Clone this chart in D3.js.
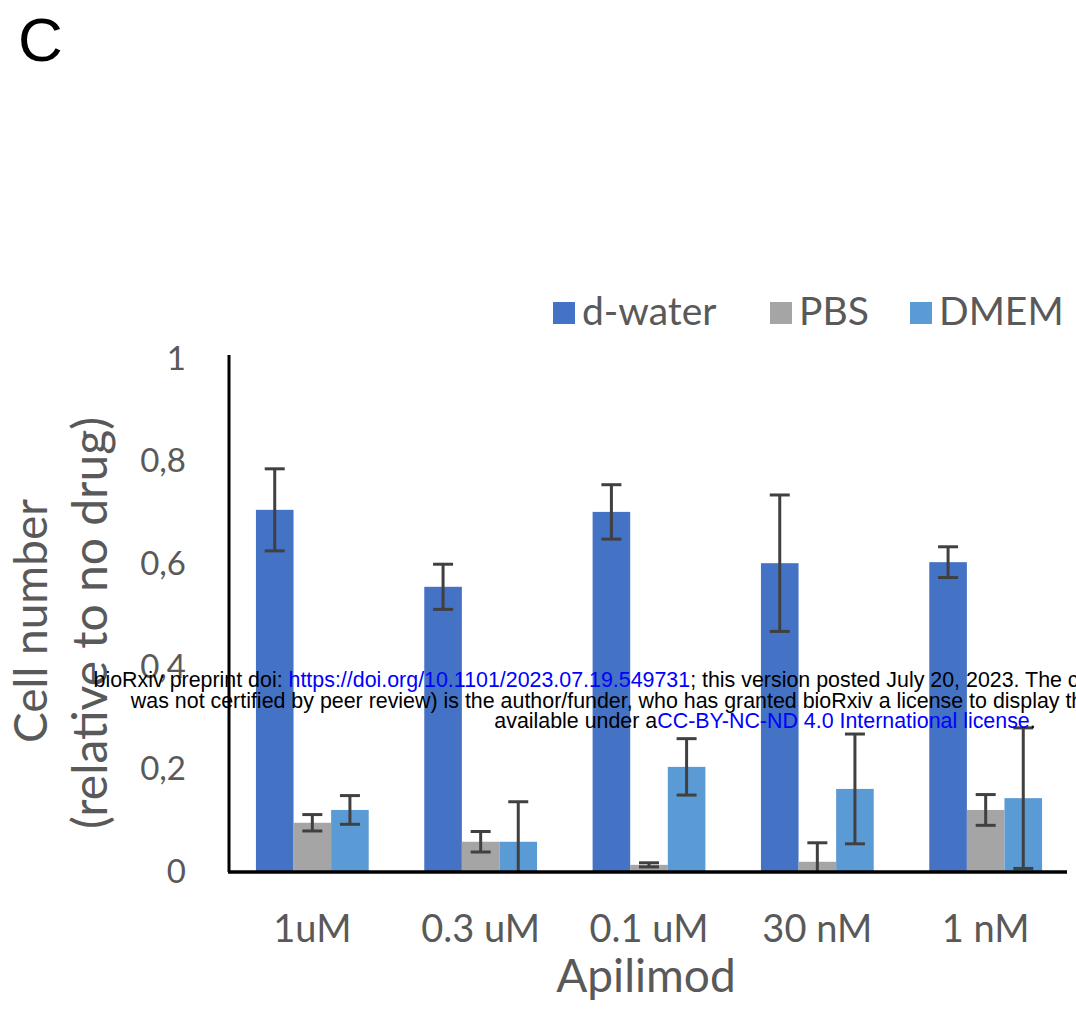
<!DOCTYPE html>
<html>
<head>
<meta charset="utf-8">
<script src="https://cdn.jsdelivr.net/npm/d3@7"></script>
<style>
  body { margin: 0; background: #fff; }
  svg { display: block; }
</style>
</head>
<body>
<svg id="chart" width="1076" height="1013"></svg>
<script>
// data
const doses = ["1uM", "0.3 uM", "0.1 uM", "30 nM", "1 nM"];
const media = ["d-water", "PBS", "DMEM"];
const dwater = [0.704, 0.554, 0.700, 0.600, 0.602];
const dwaterErr = [0.080, 0.044, 0.053, 0.133, 0.030];
const pbs = [0.094, 0.057, 0.012, 0.018, 0.119];
const pbsErr = [0.016, 0.020, 0.004, 0.037, 0.030];
const dmem = [0.119, 0.057, 0.203, 0.160, 0.142];
const dmemErr = [0.028, 0.078, 0.055, 0.107, 0.137];
const yTicks = [0, 0.2, 0.4, 0.6, 0.8, 1];

const colors = {"d-water": "#4472c4", "PBS": "#a5a5a5", "DMEM": "#5b9bd5"};
const textGray = "#595959";
const font = "Lato, 'Open Sans', sans-serif";

const rows = [];
doses.forEach((d, i) => {
    rows.push({dose: d, medium: "d-water", v: dwater[i], e: dwaterErr[i]});
    rows.push({dose: d, medium: "PBS", v: pbs[i], e: pbsErr[i]});
    rows.push({dose: d, medium: "DMEM", v: dmem[i], e: dmemErr[i]});
});

const svg = d3.select("#chart");

const x0 = d3.scaleBand().domain(doses).range([229, 1069]).paddingInner(0.33).paddingOuter(0.16);
const x1 = d3.scaleBand().domain(media).range([0, x0.bandwidth()]);
const y = d3.scaleLinear().domain([0, 1]).range([871, 358]);

// bars
svg.append("g").selectAll("rect")
    .data(rows)
    .join("rect")
    .attr("x", d => x0(d.dose) + x1(d.medium))
    .attr("y", d => y(d.v))
    .attr("width", x1.bandwidth())
    .attr("height", d => y(0) - y(d.v))
    .attr("fill", d => colors[d.medium]);

// error bars
const eb = svg.append("g").attr("stroke", "#404040").attr("stroke-width", 3);
rows.forEach(d => {
    const cx = x0(d.dose) + x1(d.medium) + x1.bandwidth() / 2;
    const lo = Math.max(0, d.v - d.e), hi = d.v + d.e;
    eb.append("line").attr("x1", cx).attr("x2", cx).attr("y1", y(lo)).attr("y2", y(hi));
    eb.append("line").attr("x1", cx - 10).attr("x2", cx + 10).attr("y1", y(hi)).attr("y2", y(hi));
    if (d.v - d.e > 0)
        eb.append("line").attr("x1", cx - 10).attr("x2", cx + 10).attr("y1", y(lo)).attr("y2", y(lo));
});

// axes lines
svg.append("line").attr("x1", 229).attr("x2", 229).attr("y1", 355).attr("y2", 872)
    .attr("stroke", "#000").attr("stroke-width", 3);
svg.append("line").attr("x1", 228).attr("x2", 1067).attr("y1", 872).attr("y2", 872)
    .attr("stroke", "#000").attr("stroke-width", 3.5);

// y tick labels
svg.append("g").selectAll("text")
    .data(yTicks)
    .join("text")
    .attr("x", 186)
    .attr("y", d => y(d))
    .attr("dy", "0.36em")
    .attr("text-anchor", "end")
    .attr("font-family", font)
    .attr("font-size", 33)
    .attr("fill", textGray)
    .text(d => d === 0 || d === 1 ? String(d) : String(d).replace(".", ","));

// x tick labels
svg.append("g").selectAll("text")
    .data(doses)
    .join("text")
    .attr("x", d => x0(d) + x0.bandwidth() / 2)
    .attr("y", 942)
    .attr("text-anchor", "middle")
    .attr("font-family", font)
    .attr("font-size", 38)
    .attr("fill", textGray)
    .text(d => d);

// axis titles
svg.append("text")
    .attr("x", 646).attr("y", 992)
    .attr("text-anchor", "middle")
    .attr("font-family", font).attr("font-size", 46)
    .attr("fill", textGray)
    .text("Apilimod");

svg.append("text")
    .attr("transform", "translate(47,621) rotate(-90)")
    .attr("text-anchor", "middle")
    .attr("font-family", font).attr("font-size", 46)
    .attr("fill", textGray)
    .text("Cell number");
svg.append("text")
    .attr("transform", "translate(107,623) rotate(-90)")
    .attr("text-anchor", "middle")
    .attr("font-family", font).attr("font-size", 48)
    .attr("fill", textGray)
    .text("(relative to no drug)");

// legend
const legX = [553, 770, 910];
const leg = svg.append("g").selectAll("g")
    .data(media)
    .join("g")
    .attr("transform", (d, i) => `translate(${legX[i]},302)`);
leg.append("rect").attr("width", 22).attr("height", 22).attr("fill", d => colors[d]);
leg.append("text")
    .attr("x", 29).attr("y", 23)
    .attr("font-family", font).attr("font-size", 39)
    .attr("fill", textGray)
    .text(d => d);

// panel letter
svg.append("text")
    .attr("x", 18).attr("y", 61)
    .attr("font-family", "'Liberation Sans', Arial, sans-serif")
    .attr("font-size", 62)
    .attr("fill", "#000")
    .text("C");

// bioRxiv header overlay
const over = svg.append("g")
    .attr("font-family", "'Liberation Sans', Arial, sans-serif")
    .attr("font-size", 21.4)
    .attr("text-anchor", "middle");
const l1 = over.append("text").attr("x", 765).attr("y", 687);
l1.append("tspan").attr("fill", "#000").text("bioRxiv preprint doi: ");
l1.append("tspan").attr("fill", "#0000ff").text("https://doi.org/10.1101/2023.07.19.549731");
l1.append("tspan").attr("fill", "#000").text("; this version posted July 20, 2023. The copyright holder for this preprint (which");
over.append("text").attr("x", 765).attr("y", 708).attr("fill", "#000")
    .text("was not certified by peer review) is the author/funder, who has granted bioRxiv a license to display the preprint in perpetuity. It is made");
const l3 = over.append("text").attr("x", 765).attr("y", 728);
l3.append("tspan").attr("fill", "#000").text("available under a");
l3.append("tspan").attr("fill", "#0000ff").text("CC-BY-NC-ND 4.0 International license");
l3.append("tspan").attr("fill", "#000").text(".");
</script>
</body>
</html>
